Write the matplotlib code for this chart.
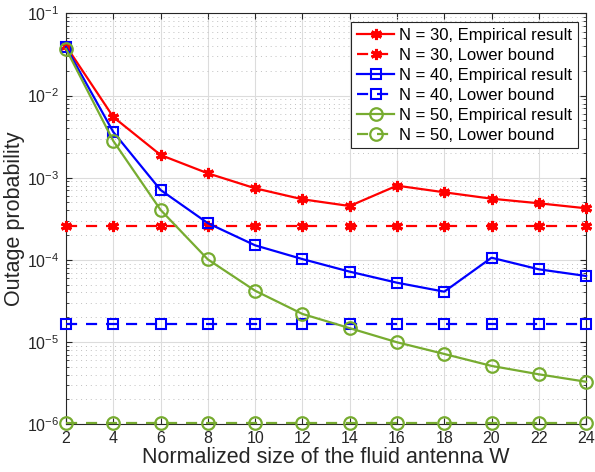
import matplotlib.pyplot as plt
from matplotlib.ticker import LogLocator, NullFormatter
import numpy as np

plt.rcParams['font.family'] = ['Liberation Sans', 'DejaVu Sans']

W = [2, 4, 6, 8, 10, 12, 14, 16, 18, 20, 22, 24]

# empirical outage probabilities
emp30 = [4.02e-2, 5.48e-3, 1.89e-3, 1.13e-3, 7.43e-4, 5.46e-4, 4.52e-4, 8.0e-4, 6.64e-4, 5.55e-4, 4.88e-4, 4.24e-4]
emp40 = [3.9e-2, 3.6e-3, 7.08e-4, 2.79e-4, 1.50e-4, 1.02e-4, 7.17e-5, 5.26e-5, 4.09e-5, 1.06e-4, 7.66e-5, 6.35e-5]
emp50 = [3.7e-2, 2.8e-3, 4.05e-4, 1.01e-4, 4.2e-5, 2.19e-5, 1.47e-5, 9.9e-6, 7.13e-6, 5.1e-6, 4.03e-6, 3.27e-6]

# lower bounds (constant in W)
lb30 = 2.58e-4
lb40 = 1.67e-5
lb50 = 1.03e-6

red = '#ff0000'
blue = '#0000ff'
green = '#77ac30'
ast = (6, 2, 0)

fig = plt.figure(figsize=(5.95, 4.72), dpi=100)
ax = fig.add_axes([0.111, 0.1017, 0.874, 0.8697])

kw = dict(lw=1.6, clip_on=False, zorder=3)
ax.plot(W, emp30, '-', color=red, marker=ast, ms=8, mew=2.2, label='N = 30, Empirical result', **kw)
ax.plot(W, [lb30] * len(W), '--', color=red, dashes=(5, 4), marker=ast, ms=8, mew=2.2, label='N = 30, Lower bound', **kw)
ax.plot(W, emp40, '-', color=blue, marker='s', ms=7, mfc='none', mew=1.5, label='N = 40, Empirical result', **kw)
ax.plot(W, [lb40] * len(W), '--', color=blue, dashes=(5, 4), marker='s', ms=7, mfc='none', mew=1.5, label='N = 40, Lower bound', **kw)
ax.plot(W, emp50, '-', color=green, marker='o', ms=9, mfc='none', mew=1.6, label='N = 50, Empirical result', **kw)
ax.plot(W, [lb50] * len(W), '--', color=green, dashes=(5, 4), marker='o', ms=9, mfc='none', mew=1.6, label='N = 50, Lower bound', **kw)

ax.set_yscale('log')
ax.set_xlim(2, 24)
ax.set_ylim(1e-6, 1e-1)
ax.set_xticks(W)
ax.yaxis.set_major_locator(LogLocator(base=10, numticks=10))
ax.yaxis.set_minor_locator(LogLocator(base=10, subs=np.arange(2, 10), numticks=10))
ax.yaxis.set_minor_formatter(NullFormatter())

ax.grid(True, which='major', color='#dcdcdc', lw=0.8)
ax.grid(True, which='minor', axis='y', color='#c0c0c0', lw=0.7, ls=(0, (1, 4)))
ax.set_axisbelow(True)

ax.tick_params(which='both', direction='in', top=True, right=True, colors='#262626', labelsize=11.5)
ax.tick_params(which='major', length=4, pad=5)
ax.tick_params(which='minor', length=2)
for s in ax.spines.values():
    s.set_color('#262626')
    s.set_linewidth(0.8)

ax.set_xlabel('Normalized size of the fluid antenna W', fontsize=15.5, color='#262626', labelpad=1)
ax.set_ylabel('Outage probability', fontsize=15.5, color='#262626', labelpad=1)

leg = ax.legend(loc='upper right', fontsize=12, frameon=True, fancybox=False, framealpha=1,
                edgecolor='#262626', borderpad=0.35, labelspacing=0.3, handlelength=2.2,
                handletextpad=0.3, borderaxespad=0.5)
leg.get_frame().set_linewidth(0.8)
leg.set_zorder(5)

fig.savefig('out.png', dpi=100)
